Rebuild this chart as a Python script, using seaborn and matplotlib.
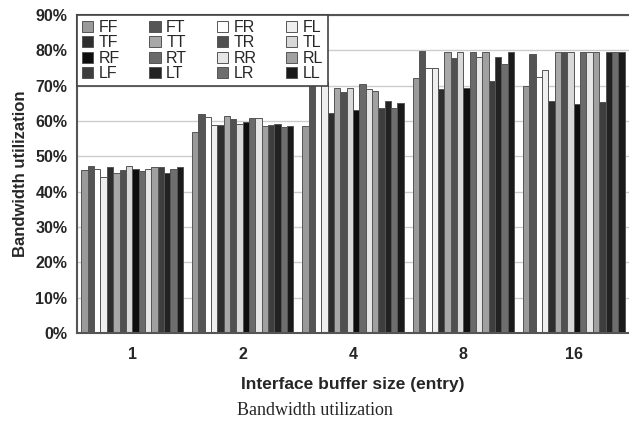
import pandas as pd
import matplotlib.pyplot as plt
import seaborn as sns
import numpy as np

# Dados
tamanhos = ['1', '2', '4', '8', '16']
esquemas = ['FF', 'FT', 'FR', 'FL', 'TF', 'TT', 'TR', 'TL',
            'RF', 'RT', 'RR', 'RL', 'LF', 'LT', 'LR', 'LL']

util_1 = [46.1, 47.4, 46.3, 44.2, 46.9, 45.4, 46.1, 47.2,
          46.3, 45.9, 46.3, 46.9, 46.9, 45.4, 46.3, 46.9]
util_2 = [56.9, 62.0, 61.1, 58.8, 58.8, 61.3, 60.7, 59.2,
          59.8, 60.9, 60.9, 58.6, 58.8, 59.2, 58.4, 58.6]
util_4 = [58.6, 74.0, 72.0, 71.0, 62.2, 69.2, 68.1, 69.4,
          63.0, 70.4, 69.0, 68.6, 63.7, 65.8, 63.8, 65.2]
util_8 = [72.3, 79.8, 75.1, 75.1, 69.0, 79.6, 77.8, 79.6,
          69.4, 79.6, 78.1, 79.6, 71.3, 78.1, 76.2, 79.6]
util_16 = [69.8, 79.1, 72.4, 74.3, 65.6, 79.6, 79.6, 79.6,
           64.7, 79.6, 79.6, 79.6, 65.4, 79.6, 79.6, 79.6]

cores = ['#9a9a9a', '#555555', '#ffffff', '#efefef',
         '#2e2e2e', '#a8a8a8', '#505050', '#d8d8d8',
         '#0e0e0e', '#6a6a6a', '#e6e6e6', '#a0a0a0',
         '#3e3e3e', '#222222', '#6e6e6e', '#1a1a1a']

# Montando a tabela longa
linhas = []
for tam, vals in zip(tamanhos, [util_1, util_2, util_4, util_8, util_16]):
    for esq, v in zip(esquemas, vals):
        linhas.append({'tamanho': tam, 'esquema': esq, 'util': v / 100})
dados = pd.DataFrame(linhas)

sns.set_style('white')
plt.rcParams['font.family'] = ['Liberation Sans', 'DejaVu Sans']

fig = plt.figure(figsize=(6.29, 4.30), dpi=100)
ax = fig.add_axes([77 / 629, 1 - 333 / 430, 552 / 629, 318 / 430])

sns.barplot(data=dados, x='tamanho', y='util', hue='esquema',
            order=tamanhos, hue_order=esquemas, palette=cores,
            width=0.92, edgecolor='#555555', linewidth=0.7,
            saturation=1, ax=ax, zorder=2)

ax.set_xlim(-0.5, 4.5)
ax.set_ylim(0, 0.9)
ax.set_yticks(np.arange(0, 0.91, 0.1))
ax.set_yticklabels([f'{int(round(t * 100))}%' for t in np.arange(0, 0.91, 0.1)],
                   fontsize=11.5, fontweight='bold')
ax.set_xticks(range(5))
ax.set_xticklabels(tamanhos, fontsize=11.5, fontweight='bold')
ax.tick_params(axis='x', length=0, pad=10)
ax.tick_params(axis='y', length=4, width=1, color='#555555', direction='out', pad=3)
ax.set_xticks(np.arange(0.5, 4.5, 1), minor=True)
ax.tick_params(axis='x', which='minor', length=4, direction='in', color='#555555')

ax.yaxis.grid(True, color='#cccccc', linewidth=1, zorder=0)
ax.set_axisbelow(True)

for lado in ['left', 'bottom', 'top']:
    ax.spines[lado].set_visible(True)
    ax.spines[lado].set_color('#555555')
    ax.spines[lado].set_linewidth(1.5)
ax.spines['right'].set_visible(False)

ax.set_xlabel('Interface buffer size (entry)', fontsize=12.5, fontweight='bold', labelpad=11)
ax.set_ylabel('Bandwidth utilization', fontsize=12, fontweight='bold', labelpad=5)

# legenda preenchida por linhas (4 colunas)
handles, labels = ax.get_legend_handles_labels()
ordem = [r * 4 + c for c in range(4) for r in range(4)]
handles = [handles[i] for i in ordem]
labels = [labels[i] for i in ordem]
leg = ax.legend(handles, labels, ncol=4, loc='upper left', bbox_to_anchor=(0, 1),
                borderaxespad=0, fontsize=11.5, frameon=True, fancybox=False,
                handlelength=0.7, handleheight=0.7, handletextpad=0.35,
                columnspacing=1.85, labelspacing=0.03, borderpad=0.3,
                framealpha=1)
leg.get_frame().set_edgecolor('#444444')
leg.get_frame().set_linewidth(1.2)
leg.set_zorder(5)

fig.text(0.5, 0.045, 'Bandwidth utilization', ha='center', va='center',
         fontsize=13, family=['Liberation Serif', 'DejaVu Serif'])

plt.savefig('out.png', dpi=100)
